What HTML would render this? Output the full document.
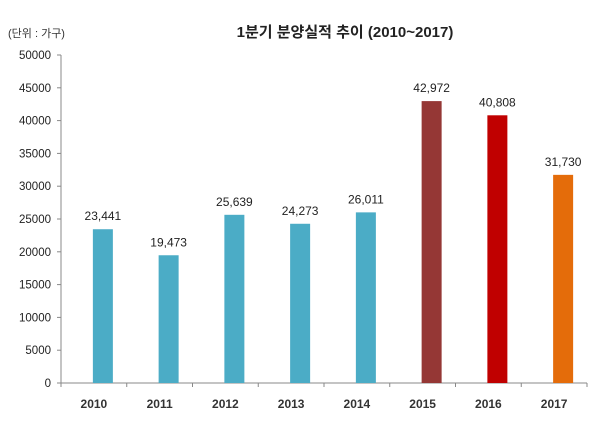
<!DOCTYPE html>
<html><head><meta charset="utf-8"><style>
body{margin:0;background:#fff;width:600px;height:420px;overflow:hidden}
svg text{font-family:"Liberation Sans","Noto Sans CJK KR",sans-serif}
</style></head><body>
<svg id="c" width="600" height="420">
<text x="345" y="37" text-anchor="middle" font-size="15" font-weight="bold" fill="#222">1분기 분양실적 추이 (2010~2017)</text>
<text x="8" y="37" font-size="11" fill="#333">(단위 : 가구)</text>
</svg>
<script>
const categories=['2010','2011','2012','2013','2014','2015','2016','2017'];
const values=[23441,19473,25639,24273,26011,42972,40808,31730];
const valueLabels=['23,441','19,473','25,639','24,273','26,011','42,972','40,808','31,730'];
const colors=['#4bacc6','#4bacc6','#4bacc6','#4bacc6','#4bacc6','#953735','#c00000','#e46c0a'];
const yTicks=[0,5000,10000,15000,20000,25000,30000,35000,40000,45000,50000];
const svg=document.getElementById('c');const NS='http://www.w3.org/2000/svg';
const x0=61,x1=587,y0=383,y1=55,yMax=50000;
const bw=(x1-x0)/categories.length;
const y=v=>y0-(v/yMax)*(y0-y1);
const xc=i=>x0+bw*(i+0.5);
function mk(t,a,p){const e=document.createElementNS(NS,t);for(const k in a)e.setAttribute(k,a[k]);(p||svg).appendChild(e);return e;}
let ax=mk('line',{x1:x0,y1:y1,x2:x0,y2:y0,stroke:'#888'});


yTicks.forEach(v=>{
 let t=mk('line',{x1:x0-4,x2:x0,y1:y(v),y2:y(v),stroke:'#888'});
 
 
 let l=mk('text',{x:x0-10,y:y(v)+4,'text-anchor':'end','font-size':'11.5',fill:'#222'});l.textContent=v;
 
 
});
let xa=mk('line',{x1:x0,y1:y0,x2:x1,y2:y0,stroke:'#888'});


for(let i=0;i<=categories.length;i++){
 let t=mk('line',{x1:x0+bw*i,x2:x0+bw*i,y1:y0,y2:y0+4,stroke:'#888'});
 
 
}
categories.forEach((c,i)=>{
 const cx=xc(i)+9;
 let b=mk('rect',{x:cx-10,y:y(values[i]),width:20,height:y0-y(values[i]),fill:colors[i]});
 
 
 let vl=mk('text',{x:cx,y:y(values[i])-9,'text-anchor':'middle','font-size':'12',fill:'#222'});vl.textContent=valueLabels[i];
 
 
 let xl=mk('text',{x:xc(i),y:408,'text-anchor':'middle','font-size':'12',fill:'#333','font-weight':'bold'});xl.textContent=c;
 
 
});
</script>
</body></html>
